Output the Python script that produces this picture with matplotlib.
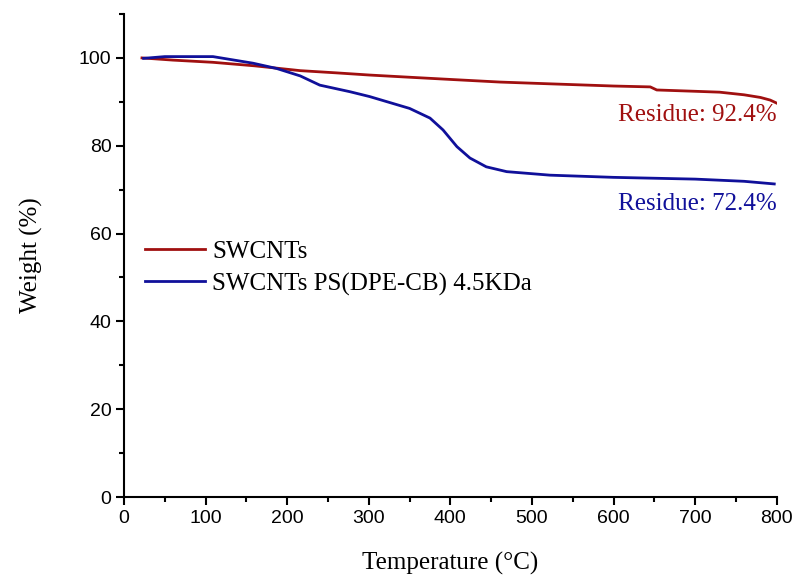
import matplotlib.pyplot as plt
from matplotlib.ticker import MultipleLocator

# TGA curves (temperature in °C, weight in %)
t_cnt = [22, 60, 109, 160, 216, 260, 301, 350, 400, 461, 522, 600, 645, 653,
         700, 730, 760, 780, 792, 800]
w_cnt = [100.0, 99.5, 99.0, 98.2, 97.1, 96.6, 96.1, 95.6, 95.1, 94.5, 94.1,
         93.6, 93.4, 92.7, 92.4, 92.2, 91.6, 91.0, 90.4, 89.7]

t_ps = [24, 50, 109, 158, 187, 216, 240, 277, 301, 350, 375, 391, 408, 424,
        444, 469, 522, 600, 700, 760, 797]
w_ps = [99.9, 100.3, 100.3, 98.8, 97.6, 95.9, 93.8, 92.3, 91.2, 88.5, 86.3,
        83.6, 79.8, 77.2, 75.2, 74.1, 73.3, 72.8, 72.4, 71.9, 71.3]

labels = ['SWCNTs', 'SWCNTs PS(DPE-CB) 4.5KDa']
residues = [92.4, 72.4]
red = '#a01010'
blue = '#10109a'

serif = 'Liberation Serif'
sans = 'Liberation Sans'

fig = plt.figure(figsize=(7.95, 5.79), dpi=100)
ax = fig.add_axes([0.156, 0.1416, 0.821, 0.8342])

ax.plot(t_cnt, w_cnt, color=red, lw=2, label=labels[0])
ax.plot(t_ps, w_ps, color=blue, lw=2, label=labels[1])

ax.set_xlim(0, 800)
ax.set_ylim(0, 110)
ax.xaxis.set_major_locator(MultipleLocator(100))
ax.xaxis.set_minor_locator(MultipleLocator(50))
ax.yaxis.set_minor_locator(MultipleLocator(10))
ax.set_yticks([0, 20, 40, 60, 80, 100])

for s in ['top', 'right']:
    ax.spines[s].set_visible(False)
for s in ['left', 'bottom']:
    ax.spines[s].set_linewidth(1.5)
ax.tick_params(which='major', direction='out', length=6, width=1.5,
               labelsize=14, pad=3)
ax.tick_params(which='minor', direction='out', length=3.6, width=1.5)
for lab in ax.get_xticklabels() + ax.get_yticklabels():
    lab.set_fontfamily(sans)

ax.set_xlabel('Temperature (°C)', fontfamily=serif, fontsize=18, labelpad=18)
ax.set_ylabel('Weight (%)', fontfamily=serif, fontsize=18, labelpad=26)

ax.text(800, 85.6, f'Residue: {residues[0]}%', color=red, fontfamily=serif,
        fontsize=18, ha='right', va='baseline')
ax.text(800, 65.4, f'Residue: {residues[1]}%', color=blue, fontfamily=serif,
        fontsize=18, ha='right', va='baseline')

ax.legend(loc='upper left', bbox_to_anchor=(0.032, 0.532), frameon=False,
          prop={'family': serif, 'size': 18}, handlelength=2.4,
          handletextpad=0.3, labelspacing=0.4, borderpad=0, borderaxespad=0)

fig.savefig('out.png', dpi=100)
